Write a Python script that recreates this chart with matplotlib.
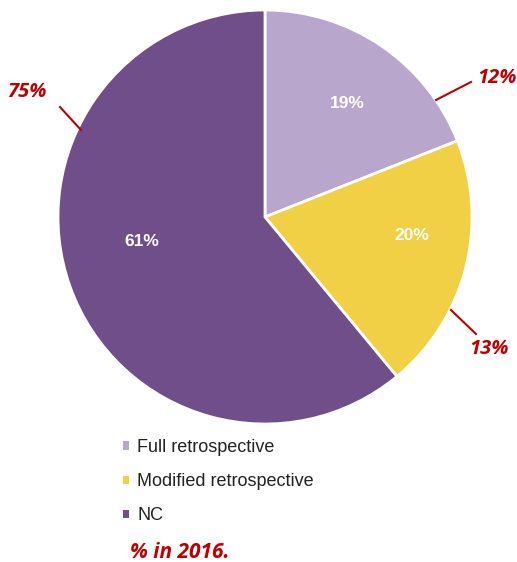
import matplotlib.pyplot as plt
from matplotlib.patches import Patch

# data
categories = ["Full retrospective", "Modified retrospective", "NC"]
share_now = [19, 20, 61]
share_2016 = [12, 13, 75]
colors = ["#B9A6CC", "#F2D046", "#6F4E89"]
red = "#C00000"

W, H = 517, 562
fig = plt.figure(figsize=(W / 100, H / 100), dpi=100)
ax = fig.add_axes([0, 0, 1, 1])

def py(y):
    # picture y (top down) -> axes y
    return H - y

cx, cy, r = 265, py(217), 207
wedges, _ = ax.pie(share_now, colors=colors, startangle=90, counterclock=False,
                   center=(cx, cy), radius=r, frame=True,
                   wedgeprops=dict(edgecolor="white", linewidth=2))
ax.set_xlim(0, W)
ax.set_ylim(0, H)
ax.set_aspect("equal")
ax.axis("off")

# inner labels
inner_pos = [(347, 103), (412, 236), (142, 241)]
for v, (x, y) in zip(share_now, inner_pos):
    ax.text(x, py(y), f"{v}%", color="white", fontsize=12.5, fontweight="bold",
            ha="center", va="center", family="Liberation Sans")

# 2016 labels with leader lines
outer = [
    ((436, 100), (471, 82), (497, 78)),
    ((451, 310), (476, 334), (489, 349)),
    ((81, 130), (60, 107), (27, 92)),
]
for v, (p0, p1, t) in zip(share_2016, outer):
    ax.plot([p0[0], p1[0]], [py(p0[1]), py(p1[1])], color=red, lw=1.5)
    ax.text(t[0], py(t[1]), f"{v}%", color=red, fontsize=14.5, fontweight="bold",
            fontstyle="italic", ha="center", va="center", family="Open Sans")

# legend
handles = [Patch(facecolor=c, edgecolor="none") for c in colors]
leg = ax.legend(handles, categories, loc="upper left",
                bbox_to_anchor=(110 / W, 1 - 426.5 / H), frameon=False,
                prop={"family": "Liberation Sans", "size": 13},
                handlelength=0.35, handleheight=0.35, handletextpad=0.45,
                labelspacing=0.95, labelcolor="#222222",
                borderpad=0.2)

ax.text(130, py(552), "% in 2016.", color=red, fontsize=15, fontweight="bold",
        fontstyle="italic", ha="left", va="center", family="Open Sans")

fig.savefig("out.png", dpi=100)
